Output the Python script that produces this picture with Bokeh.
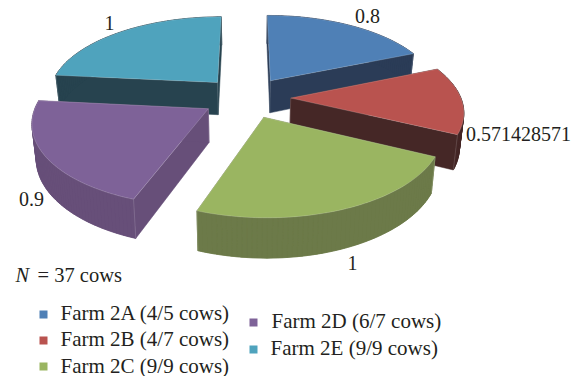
import numpy as np
from bokeh.core.properties import value
from bokeh.embed import file_html
from bokeh.models import Range1d
from bokeh.plotting import figure
from bokeh.resources import INLINE

farms = ["Farm 2A (4/5 cows)", "Farm 2B (4/7 cows)", "Farm 2C (9/9 cows)",
         "Farm 2D (6/7 cows)", "Farm 2E (9/9 cows)"]
proportions = [0.8, 0.571428571, 1, 0.9, 1]
value_labels = ["0.8", "0.571428571", "1", "0.9", "1"]
top_colors = ["#4f80b6", "#b9534f", "#9ab561", "#7e6298", "#4fa3bd"]
wall_colors = ["#2b3c57", "#452726", "#6c7a49", "#674f79", "#27434f"]

# Camera model of the tilted, exploded pie (screen pixels).
CX, CY = 246.0, 97.0
SCALE_X, SCALE_Y = 170.0, 544.0
PERSPECTIVE = 0.146
EXPLODE = 0.26
DEPTH = 33.0
DEPTH_TAPER = 0.02

FONT = value("Liberation Serif")
INK = "#231f20"


def project(x, y):
    s = 1.0 / (1.0 - PERSPECTIVE * y)
    return CX + SCALE_X * x * s, CY + SCALE_Y * (s - 1.0), s


def slice_outline(start, end):
    mid = (start + end) / 2
    ox, oy = EXPLODE * np.sin(mid), -EXPLODE * np.cos(mid)
    t = np.linspace(start, end, 60)
    x = np.concatenate([[ox], ox + np.sin(t)])
    y = np.concatenate([[oy], oy - np.cos(t)])
    return project(x, y)


def lower(sx, sy, s):
    return CX + (sx - CX) * (1 - DEPTH_TAPER), sy + DEPTH * s


p = figure(width=572, height=376, output_backend="svg", toolbar_location=None,
           x_range=Range1d(0, 572), y_range=Range1d(376, 0),
           min_border=0, outline_line_color=None, background_fill_color="white")
p.axis.visible = False
p.grid.visible = False

fractions = np.array(proportions) / np.sum(proportions)
edges = np.concatenate([[0], np.cumsum(fractions)]) * 2 * np.pi

# Painter's order: rear slices first, front slice last.
for i in [0, 4, 1, 3, 2]:
    sx, sy, s = slice_outline(edges[i], edges[i + 1])
    bx, by = lower(sx, sy, s)
    # Walls as whole polygons: the two radial faces and the curved outer face,
    # then narrow quads along the rim so the silhouette keeps its tangent edges.
    wall_xs = [[sx[0], sx[1], bx[1], bx[0]],
               [sx[0], sx[-1], bx[-1], bx[0]],
               list(sx[1:]) + list(bx[1:][::-1])]
    wall_ys = [[sy[0], sy[1], by[1], by[0]],
               [sy[0], sy[-1], by[-1], by[0]],
               list(sy[1:]) + list(by[1:][::-1])]
    for a in range(1, len(sx) - 1):
        wall_xs.append([sx[a], sx[a + 1], bx[a + 1], bx[a]])
        wall_ys.append([sy[a], sy[a + 1], by[a + 1], by[a]])
    p.patches(wall_xs, wall_ys, fill_color=wall_colors[i], line_color=wall_colors[i], line_width=0.5)
    # pale highlight down the wall corners
    for k in (0, 1, -1):
        p.line([sx[k], bx[k]], [sy[k], by[k]], line_color="#ffffff", line_alpha=0.18, line_width=0.8)
    p.patch(sx, sy, fill_color=top_colors[i], line_color="#ffffff", line_alpha=0.25, line_width=0.7)

# Value labels beside each slice
label_x = [367, 518, 352, 31, 109]
label_y = [15, 133, 262, 198, 22]
p.text(label_x, label_y, text=value_labels, text_font=FONT, text_font_size="20px",
       text_color=INK, text_align="center", text_baseline="middle")

# Sample size note
p.text([15], [274], text=["N"], text_font=FONT, text_font_style="italic", text_font_size="20.5px",
       text_color=INK, text_baseline="middle")
p.text([37], [274], text=["= 37 cows"], text_font=FONT, text_font_size="20.5px",
       text_color=INK, text_baseline="middle")

# Two-column key
key_sq_x = [43, 43, 43, 253, 253]
key_sq_y = [314, 340, 366, 322, 349]
key_tx_x = [60, 60, 60, 271, 270]
key_tx_y = [312, 338, 365, 320, 347]
p.scatter(key_sq_x, key_sq_y, marker="square", size=8, fill_color=top_colors, line_color=None)
p.text(key_tx_x, key_tx_y, text=farms, text_font=FONT, text_font_size="21px",
       text_color=INK, text_baseline="middle")

open("out.html", "w").write(file_html(p, INLINE))
